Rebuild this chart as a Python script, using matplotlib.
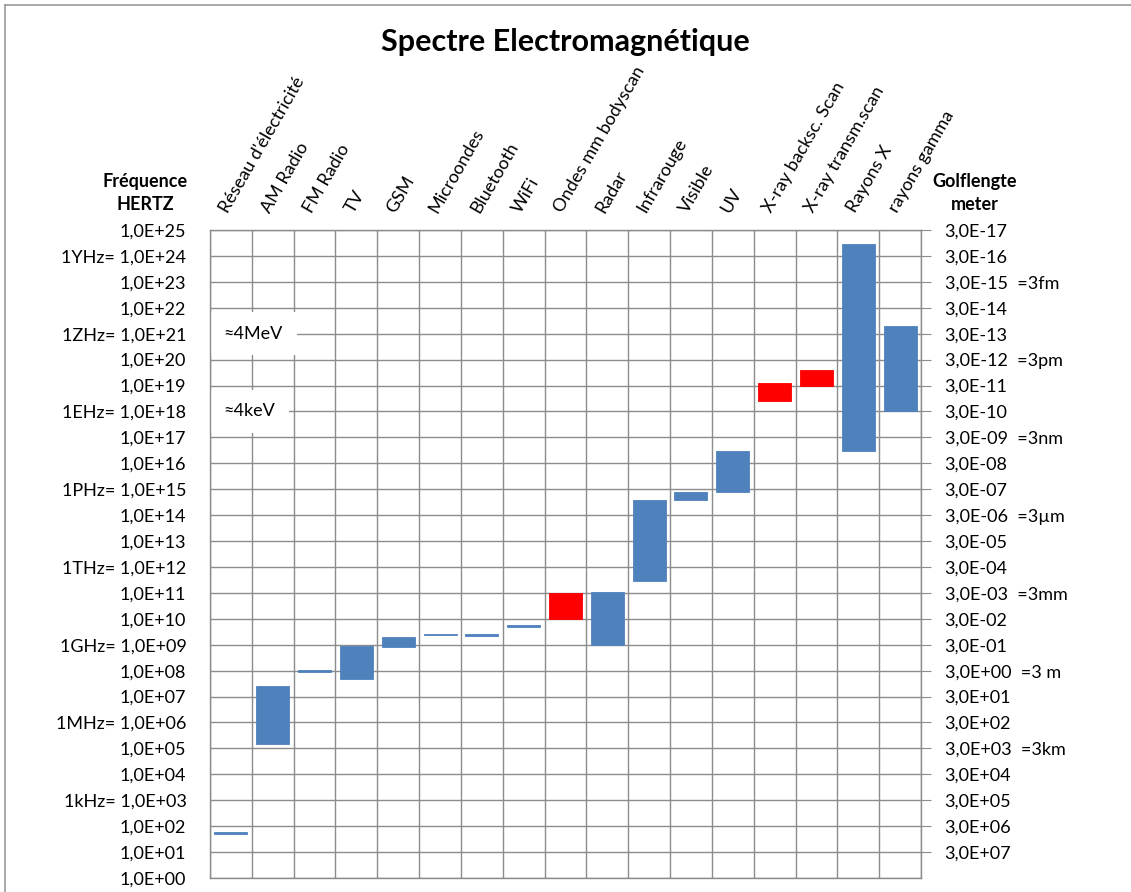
import numpy as np
import matplotlib.pyplot as plt
from matplotlib.lines import Line2D
from matplotlib.ticker import FixedLocator, NullFormatter

plt.rcParams['font.family'] = ['Lato', 'DejaVu Sans']

# categories and frequency ranges (Hz)
categories = ["Réseau d'électricité", "AM Radio", "FM Radio", "TV", "GSM", "Microondes",
              "Bluetooth", "WiFi", "Ondes mm bodyscan", "Radar", "Infrarouge", "Visible",
              "UV", "X-ray backsc. Scan", "X-ray transm.scan", "Rayons X", "rayons gamma"]
freq_low = [50, 1.485e5, 8.75e7, 4.7e7, 8.2e8, 2.3e9, 2.2e9, 4.9e9, 1.0e10, 1.0e9,
            3.0e11, 3.85e14, 7.5e14, 2.5e18, 1.0e19, 3.0e16, 1.0e18]
freq_high = [60, 2.61e7, 1.08e8, 9.0e8, 1.9e9, 2.6e9, 2.6e9, 5.6e9, 1.0e11, 1.05e11,
             3.85e14, 7.5e14, 3.0e16, 1.2e19, 4.0e19, 3.0e24, 1.9e21]
scanners = ["Ondes mm bodyscan", "X-ray backsc. Scan", "X-ray transm.scan"]

# left axis: decade exponents with SI prefixes
decades = list(range(0, 26))
prefixes = {3: "1kHz=", 6: "1MHz=", 9: "1GHz=", 12: "1THz=", 15: "1PHz=",
            18: "1EHz=", 21: "1ZHz=", 24: "1YHz="}
# right axis: wavelength (m) = 3e8 / f, with named lengths
wl_decades = list(range(1, 26))
wl_names = {5: "=3km", 8: "=3 m", 11: "=3mm", 14: "=3µm", 17: "=3nm", 20: "=3pm", 23: "=3fm"}
energy_notes = [("≈4MeV", 1e21), ("≈4keV", 1e18)]

BLUE = "#4f81bd"
RED = "#ff0000"
GRID = "#8c8c8c"

fig = plt.figure(figsize=(11.31, 8.92), dpi=100)
ax = fig.add_axes([210 / 1131, 1 - 878 / 892, 711 / 1131, 648 / 892])

x = np.arange(len(categories))
low = np.array(freq_low)
high = np.array(freq_high)
colors = [RED if c in scanners else BLUE for c in categories]
ax.bar(x, high - low, bottom=low, width=0.79, color=colors, edgecolor=colors,
       linewidth=0.6, zorder=3)

ax.set_yscale("log")
ax.set_ylim(1, 1e25)
ax.set_xlim(-0.5, len(categories) - 0.5)

# left ticks
ax.yaxis.set_major_locator(FixedLocator([10.0 ** k for k in decades]))
ax.yaxis.set_minor_locator(FixedLocator([]))
ax.set_yticklabels([f"{prefixes.get(k, '')} 1,0E{k:+03d}".strip() for k in decades])
ax.tick_params(axis="y", which="major", length=0, pad=17, labelsize=13)
ax.grid(axis="y", color=GRID, linewidth=1, zorder=0)

# vertical category separators
ax.set_xticks([])
ax.set_xticks(np.arange(len(categories) + 1) - 0.5, minor=True)
ax.xaxis.set_minor_formatter(NullFormatter())
ax.tick_params(axis="x", which="minor", length=0)
ax.grid(axis="x", which="minor", color=GRID, linewidth=1, zorder=0)
for s in ax.spines.values():
    s.set_color(GRID)
    s.set_linewidth(1)
    s.set_zorder(6)

# right axis: wavelengths
ax2 = ax.twinx()
ax2.set_yscale("log")
ax2.set_ylim(ax.get_ylim())
ax2.yaxis.set_major_locator(FixedLocator([10.0 ** k for k in wl_decades]))
ax2.yaxis.set_minor_locator(FixedLocator([]))
ax2.set_yticklabels([f"3,0E{8 - k:+03d}" + (f"  {wl_names[k]}" if k in wl_names else "")
                     for k in wl_decades])
ax2.tick_params(axis="y", which="major", length=7, color=GRID, pad=10, labelsize=13)
for s in ax2.spines.values():
    s.set_visible(False)

# category labels across the top
for xi, name in zip(x, categories):
    ax.text(xi - 0.07, 1.025, name, transform=ax.get_xaxis_transform(), rotation=60,
            rotation_mode="anchor", ha="left", va="baseline", fontsize=13)

# energy notes in white boxes
for txt, f in energy_notes:
    ax.text(-0.17, f, txt, ha="left", va="center", fontsize=13, zorder=5,
            bbox=dict(boxstyle="square,pad=0.75", facecolor="white", edgecolor="none"))

fig.text(0.5, 1 - 42 / 892, "Spectre Electromagnétique", ha="center", va="center",
         fontsize=22, fontweight="bold")
fig.text(145 / 1131, 1 - 193 / 892, "Fréquence\nHERTZ", ha="center", va="center",
         fontsize=13, fontweight="bold", linespacing=1.4)
fig.text(975 / 1131, 1 - 193 / 892, "Golflengte\nmeter", ha="center", va="center",
         fontsize=13, fontweight="bold", linespacing=1.4)

# outer frame (left and top edges visible)
fig.add_artist(Line2D([5 / 1131, 5 / 1131], [0, 1 - 5 / 892], color="#999999", linewidth=1.2))
fig.add_artist(Line2D([5 / 1131, 1], [1 - 5 / 892, 1 - 5 / 892], color="#999999", linewidth=1.2))

fig.savefig("out.png", dpi=100)
